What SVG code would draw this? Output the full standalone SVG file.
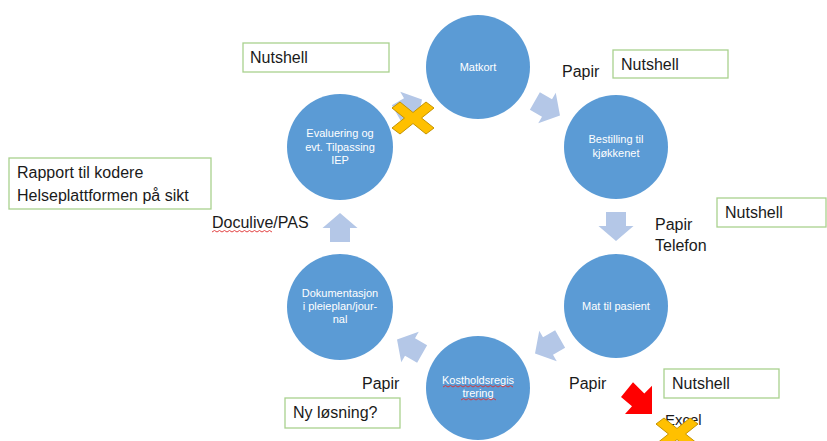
<svg xmlns="http://www.w3.org/2000/svg" width="827" height="441" viewBox="0 0 827 441">
<style>
.node{fill:#5B9BD5}
.nt{font-family:"Liberation Sans",Arial,sans-serif;font-size:11px;fill:#FFFFFF;text-anchor:middle}
.lbl{font-family:"Liberation Sans",Arial,sans-serif;font-size:16px;fill:#1A1A1A}
.box{fill:#FFFFFF;stroke:#A9D18E;stroke-width:1.3}
.arr{fill:#B4C7E7}
.xmark{fill:#FFC000;stroke:#C59400;stroke-width:1}
.sq{fill:none;stroke:#E03030;stroke-width:0.9}
</style>
<defs>
<path id="blk" d="M-14,-10 H0 V-17.5 L15,0 L0,17.5 V10 H-14 Z"/>
<polygon id="cross" points="-21,-10 -13,-16 0,-5.5 13,-16 21,-10 8.5,0 21,10 13,16 0,5.5 -13,16 -21,10 -8.5,0"/>
</defs>
<rect width="827" height="441" fill="#FFFFFF"/>
<g id="connectors">
<use href="#blk" class="arr" transform="translate(547,108) rotate(30)"/>
<use href="#blk" class="arr" transform="translate(616,226) rotate(90)"/>
<use href="#blk" class="arr" transform="translate(548,346) rotate(150)"/>
<use href="#blk" class="arr" transform="translate(410,347) rotate(210)"/>
<use href="#blk" class="arr" transform="translate(340,228) rotate(270)"/>
<use href="#blk" class="arr" transform="translate(409,107) rotate(330)"/>
</g>
<g id="n-matkort"><circle class="node" cx="478" cy="67" r="52"/><text class="nt" x="478" y="71">Matkort</text></g>
<g id="n-bestilling"><circle class="node" cx="616" cy="147" r="52"/><text class="nt" x="616" y="143">Bestilling til</text><text class="nt" x="616" y="157">kjøkkenet</text></g>
<g id="n-mat"><circle class="node" cx="616" cy="306" r="52"/><text class="nt" x="616" y="310">Mat til pasient</text></g>
<g id="n-kosthold"><circle class="node" cx="478" cy="388" r="52"/><text class="nt" x="478" y="384">Kostholdsregis</text><text class="nt" x="478" y="397">trering</text>
<path class="sq" d="M443,387 l2.5,-1.5 l2.5,1.5 l2.5,-1.5 l2.5,1.5 l2.5,-1.5 l2.5,1.5 l2.5,-1.5 l2.5,1.5 l2.5,-1.5 l2.5,1.5 l2.5,-1.5 l2.5,1.5 l2.5,-1.5 l2.5,1.5 l2.5,-1.5 l2.5,1.5 l2.5,-1.5 l2.5,1.5 l2.5,-1.5 l2.5,1.5 l2.5,-1.5 l2.5,1.5 l2.5,-1.5 l2.5,1.5 l2.5,-1.5 l2.5,1.5 l2.5,-1.5 l2.5,1.5"/>
<path class="sq" d="M461,400 l2.5,-1.5 l2.5,1.5 l2.5,-1.5 l2.5,1.5 l2.5,-1.5 l2.5,1.5 l2.5,-1.5 l2.5,1.5 l2.5,-1.5 l2.5,1.5 l2.5,-1.5 l2.5,1.5 l2.5,-1.5 l2.5,1.5"/></g>
<g id="n-dokumentasjon"><circle class="node" cx="340" cy="307" r="53"/><text class="nt" x="340" y="297">Dokumentasjon</text><text class="nt" x="340" y="310">i pleieplan/jour-</text><text class="nt" x="340" y="323">nal</text></g>
<g id="n-evaluering"><circle class="node" cx="340" cy="147" r="53"/><text class="nt" x="340" y="137">Evaluering og</text><text class="nt" x="340" y="151">evt. Tilpassing</text><text class="nt" x="340" y="164">IEP</text></g>
<g id="x-top"><use href="#cross" class="xmark" transform="translate(413,118)"/></g>
<g id="box-nutshell-1"><rect class="box" x="243" y="43" width="146" height="29"/><text class="lbl" x="250" y="63">Nutshell</text></g>
<g id="box-nutshell-2"><rect class="box" x="613" y="50" width="115" height="28"/><text class="lbl" x="621" y="70">Nutshell</text></g>
<g id="box-nutshell-3"><rect class="box" x="717" y="198" width="109" height="29"/><text class="lbl" x="725" y="218">Nutshell</text></g>
<g id="box-nutshell-4"><rect class="box" x="664" y="369" width="115" height="29"/><text class="lbl" x="672" y="389">Nutshell</text></g>
<g id="box-nylosning"><rect class="box" x="285" y="398" width="115" height="30"/><text class="lbl" x="293" y="418">Ny løsning?</text></g>
<g id="box-rapport"><rect class="box" x="9" y="158" width="202" height="51"/><text class="lbl" x="17" y="178">Rapport til kodere</text><text class="lbl" x="17" y="201">Helseplattformen på sikt</text></g>
<g id="labels">
<text class="lbl" x="562" y="77">Papir</text>
<text class="lbl" x="655" y="230">Papir</text>
<text class="lbl" x="655" y="251">Telefon</text>
<text class="lbl" x="569" y="389">Papir</text>
<text class="lbl" x="362" y="389">Papir</text>
<text class="lbl" x="212" y="228">Doculive/PAS</text>
<path class="sq" d="M212,232 l2.5,-1.5 l2.5,1.5 l2.5,-1.5 l2.5,1.5 l2.5,-1.5 l2.5,1.5 l2.5,-1.5 l2.5,1.5 l2.5,-1.5 l2.5,1.5 l2.5,-1.5 l2.5,1.5 l2.5,-1.5 l2.5,1.5 l2.5,-1.5 l2.5,1.5 l2.5,-1.5 l2.5,1.5 l2.5,-1.5 l2.5,1.5 l2.5,-1.5 l2.5,1.5 l2.5,-1.5 l2.5,1.5"/>
<text class="lbl" x="665" y="425" style="font-size:15px">Excel</text>
</g>
<g id="red-arrow"><polygon fill="#FF0000" points="633,382.2 644.3,393.5 652,385.8 652,414 625,414 632,406.3 621,397"/></g>
<g id="x-bottom"><use href="#cross" class="xmark" transform="translate(677,434)"/></g>
</svg>
